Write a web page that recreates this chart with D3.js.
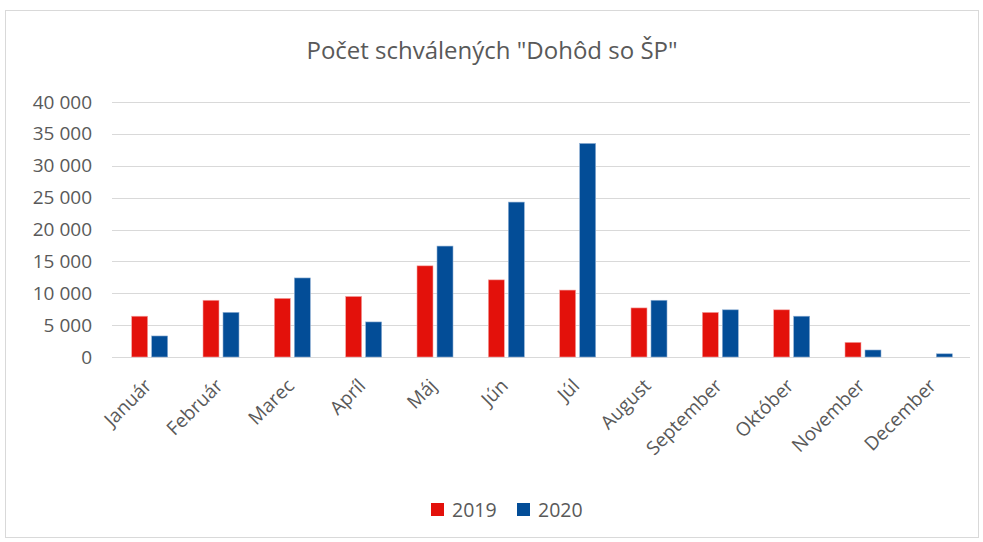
<!DOCTYPE html>
<html>
<head>
<meta charset="utf-8">
<script src="https://cdn.jsdelivr.net/npm/d3@7"></script>
<style>
  body { margin: 0; background: #fff; }
  text { font-family: "Open Sans", "Liberation Sans", sans-serif; fill: #595959; }
</style>
</head>
<body>
<div id="chart"></div>
<script>
const months = ['Január', 'Február', 'Marec', 'Apríl', 'Máj', 'Jún', 'Júl', 'August', 'September', 'Október', 'November', 'December']
const years = ['2019', '2020']
const vals2019 = [6400, 8900, 9200, 9500, 14300, 12100, 10500, 7700, 7000, 7400, 2300, 0]
const vals2020 = [3300, 7000, 12400, 5500, 17400, 24300, 33500, 8900, 7400, 6400, 1100, 500]
const yTicks = [0, 5000, 10000, 15000, 20000, 25000, 30000, 35000, 40000]
const colors = ['#e3110b', '#034d97']

const W = 983, H = 542
const margin = {top: 102, right: 13, bottom: 185, left: 114}
const width = W - margin.left - margin.right,
      height = H - margin.top - margin.bottom

const svg = d3.select('#chart').append('svg')
    .attr('width', W)
    .attr('height', H)

// chart frame
svg.append('rect')
    .attr('x', 5.5).attr('y', 10.5)
    .attr('width', 973).attr('height', 527)
    .attr('fill', 'none')
    .attr('stroke', '#d9d9d9')

svg.append('text')
    .attr('x', 492)
    .attr('y', 59)
    .attr('text-anchor', 'middle')
    .style('font-size', '24px')
    .text('Počet schválených "Dohôd so ŠP"')

const g = svg.append('g')
    .attr('transform', 'translate(' + margin.left + ',' + margin.top + ')')

const x = d3.scaleBand()
    .domain(months)
    .range([0, width])

const xs = d3.scaleBand()
    .domain(years)
    .range([x.bandwidth() / 2 - 18, x.bandwidth() / 2 + 18])
    .paddingInner(0.2)

const y = d3.scaleLinear()
    .domain([0, 40000])
    .range([height, 0])

const fmt = v => d3.format(',')(v).replace(/,/g, ' ')

// grid
g.append('g')
    .selectAll('line')
    .data(yTicks)
    .enter().append('line')
    .attr('x1', -2)
    .attr('x2', width)
    .attr('y1', d => Math.round(y(d)) + 0.5)
    .attr('y2', d => Math.round(y(d)) + 0.5)
    .attr('stroke', '#d9d9d9')
    .attr('stroke-width', 1)

const yAxis = d3.axisLeft(y)
    .tickValues(yTicks)
    .tickFormat(fmt)
    .tickSize(0)
    .tickPadding(22)

g.append('g')
    .attr('class', 'y-axis')
    .call(yAxis)
    .call(a => a.select('.domain').remove())
    .selectAll('text')
    .style('font-size', '19px')
    .style('fill', '#595959')

const rows = months.map((m, i) => ({month: m, values: [vals2019[i], vals2020[i]]}))

const groups = g.selectAll('.month')
    .data(rows)
    .enter().append('g')
    .attr('class', 'month')
    .attr('transform', d => 'translate(' + x(d.month) + ',0)')

groups.selectAll('rect')
    .data(d => d.values.map((v, j) => ({year: years[j], value: v, j: j})))
    .enter().append('rect')
    .filter(d => d.value > 0)
    .attr('x', d => xs(d.year))
    .attr('width', xs.bandwidth())
    .attr('y', d => y(d.value))
    .attr('height', d => height - y(d.value))
    .attr('fill', d => colors[d.j])
    .attr('stroke', d => d.j == 0 ? '#f4a6a3' : '#8fb0d4')
    .attr('stroke-width', 0.6)

// x labels
const xAxis = d3.axisBottom(x).tickSize(0).tickPadding(0)
g.append('g')
    .attr('class', 'x-axis')
    .attr('transform', 'translate(0,' + height + ')')
    .call(xAxis)
    .call(a => a.select('.domain').remove())
    .selectAll('text')
    .style('font-size', '19px')
    .style('fill', '#595959')
    .attr('text-anchor', 'end')
    .attr('dy', null)
    .attr('transform', 'translate(3,30) rotate(-45)')

// legend
const legend = svg.append('g')
    .attr('transform', 'translate(431,503)')

years.forEach(function(yr, i) {
    const lg = legend.append('g').attr('transform', 'translate(' + (i * 86) + ',0)')
    lg.append('rect')
        .attr('width', 13).attr('height', 13)
        .attr('fill', colors[i])
    lg.append('text')
        .attr('x', 21)
        .attr('y', 14)
        .style('font-size', '19.5px')
        .text(yr)
})
</script>
</body>
</html>
